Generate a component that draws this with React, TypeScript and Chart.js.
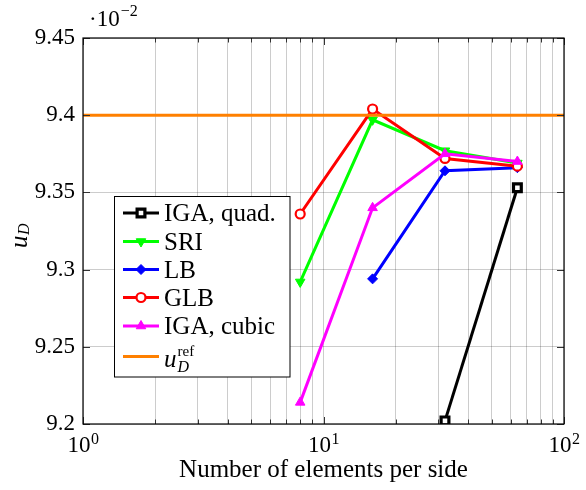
import React, { useEffect, useRef } from 'react';
import { Chart, registerables } from 'chart.js';
import { drawPoint } from 'chart.js/helpers';

Chart.register(...registerables);

// Displacement u_D (in units of 1e-2) versus mesh refinement
const elementsPerSide = [8, 16, 32, 64];
const igaQuad: (number | null)[] = [null, null, 9.202, 9.353];
const sri: (number | null)[] = [9.292, 9.397, 9.377, 9.369];
const lb: (number | null)[] = [null, 9.294, 9.364, 9.366];
const glb: (number | null)[] = [9.336, 9.404, 9.372, 9.367];
const igaCubic: (number | null)[] = [9.214, 9.34, 9.375, 9.37];
const uRef = 9.4;

const xLimits = [1, 100];
const xDecades = [1, 10];
const xMajorExponents = [0, 1, 2];
const yTicks = [9.2, 9.25, 9.3, 9.35, 9.4, 9.45];

const FONT = '"Liberation Serif", "Times New Roman", serif';

const toPoints = (vals: (number | null)[]) =>
  elementsPerSide
    .map((x, i) => ({ x, y: vals[i] }))
    .filter((p) => p.y !== null) as { x: number; y: number }[];

type SeriesStyle = {
  label: string;
  color: string;
  pointStyle: any;
  radius: number;
  rotation: number;
  fill: string;
  pointBorder: number;
};

const seriesStyles: SeriesStyle[] = [
  { label: 'IGA, quad.', color: '#000000', pointStyle: 'rect', radius: 5.5, rotation: 0, fill: '#ffffff', pointBorder: 3.2 },
  { label: 'SRI', color: '#00ff00', pointStyle: 'triangle', radius: 5.5, rotation: 180, fill: '#00ff00', pointBorder: 1 },
  { label: 'LB', color: '#0000ff', pointStyle: 'rectRot', radius: 5, rotation: 0, fill: '#0000ff', pointBorder: 1 },
  { label: 'GLB', color: '#ff0000', pointStyle: 'circle', radius: 4.5, rotation: 0, fill: '#ffffff', pointBorder: 2.2 },
  { label: 'IGA, cubic', color: '#ff00ff', pointStyle: 'triangle', radius: 5.5, rotation: 0, fill: '#ff00ff', pointBorder: 1 },
];
const seriesValues = [igaQuad, sri, lb, glb, igaCubic];
const refColor = '#ff8000';

const decorPlugin = {
  id: 'decor',
  afterDraw(chart: any) {
    const { ctx, chartArea: a, scales } = chart;
    const xs = scales.x;
    const ys = scales.y;
    ctx.save();

    // Inward tick marks on all four sides
    ctx.strokeStyle = '#333';
    ctx.lineWidth = 1;
    xs.ticks.forEach((t: any) => {
      const px = Math.round(xs.getPixelForValue(t.value)) + 0.5;
      const major = Math.abs(Math.log10(t.value) - Math.round(Math.log10(t.value))) < 1e-9;
      const len = major ? 7 : 4.5;
      ctx.beginPath();
      ctx.moveTo(px, a.bottom);
      ctx.lineTo(px, a.bottom - len);
      ctx.moveTo(px, a.top);
      ctx.lineTo(px, a.top + len);
      ctx.stroke();
    });
    ys.ticks.forEach((t: any) => {
      const py = Math.round(ys.getPixelForValue(t.value)) + 0.5;
      ctx.beginPath();
      ctx.moveTo(a.left, py);
      ctx.lineTo(a.left + 7, py);
      ctx.moveTo(a.right, py);
      ctx.lineTo(a.right - 7, py);
      ctx.stroke();
    });

    // Frame
    ctx.strokeStyle = '#000';
    ctx.lineWidth = 1.2;
    ctx.strokeRect(a.left, a.top, a.right - a.left, a.bottom - a.top);

    ctx.fillStyle = '#000';
    ctx.textBaseline = 'alphabetic';

    // x tick labels 10^k
    xMajorExponents.forEach((e) => {
      const px = xs.getPixelForValue(Math.pow(10, e));
      ctx.font = `23px ${FONT}`;
      const wBase = ctx.measureText('10').width;
      ctx.font = `16px ${FONT}`;
      const wExp = ctx.measureText(String(e)).width;
      const left = px - (wBase + wExp) / 2;
      ctx.font = `23px ${FONT}`;
      ctx.textAlign = 'left';
      ctx.fillText('10', left, 452);
      ctx.font = `16px ${FONT}`;
      ctx.fillText(String(e), left + wBase + 0.5, 444);
    });

    // x axis title
    ctx.font = `25px ${FONT}`;
    ctx.textAlign = 'center';
    ctx.fillText('Number of elements per side', (a.left + a.right) / 2, 477);

    // y axis title: u_D
    ctx.save();
    ctx.translate(27, 248);
    ctx.rotate(-Math.PI / 2);
    ctx.textAlign = 'left';
    ctx.font = `italic 25px ${FONT}`;
    ctx.fillText('u', 0, 0);
    const wu = ctx.measureText('u').width;
    ctx.font = `italic 16px ${FONT}`;
    ctx.fillText('D', wu + 0.5, 2);
    ctx.restore();

    // Scale factor ·10^-2
    ctx.textAlign = 'left';
    ctx.font = `23px ${FONT}`;
    ctx.fillText('·10', 89, 26);
    const w10 = ctx.measureText('·10').width;
    ctx.font = `16px ${FONT}`;
    ctx.fillText('−2', 89 + w10 + 1, 16);

    // Legend
    const lx = 114.5;
    const ly = 196.5;
    const lw = 175.5;
    const lh = 180.5;
    ctx.fillStyle = '#fff';
    ctx.fillRect(lx, ly, lw, lh);
    ctx.strokeStyle = '#000';
    ctx.lineWidth = 1;
    ctx.strokeRect(lx, ly, lw, lh);
    const rowY = [213, 241.5, 269.5, 297.5, 326, 356.5];
    const sx0 = 123;
    const sx1 = 159;
    const tx = 164;
    seriesStyles.forEach((s, i) => {
      const y = rowY[i];
      ctx.strokeStyle = s.color;
      ctx.lineWidth = 3;
      ctx.beginPath();
      ctx.moveTo(sx0, y);
      ctx.lineTo(sx1, y);
      ctx.stroke();
      ctx.strokeStyle = s.color;
      ctx.fillStyle = s.fill;
      ctx.lineWidth = s.pointBorder;
      drawPoint(ctx, { pointStyle: s.pointStyle, rotation: s.rotation, radius: s.radius, borderWidth: s.pointBorder } as any, (sx0 + sx1) / 2, y);
      ctx.fillStyle = '#000';
      ctx.font = `25px ${FONT}`;
      ctx.textAlign = 'left';
      ctx.fillText(s.label, tx, y + 8);
    });
    // reference entry: u_D^ref
    const yr = rowY[5];
    ctx.strokeStyle = refColor;
    ctx.lineWidth = 3;
    ctx.beginPath();
    ctx.moveTo(sx0, yr);
    ctx.lineTo(sx1, yr);
    ctx.stroke();
    ctx.fillStyle = '#000';
    ctx.font = `italic 25px ${FONT}`;
    ctx.fillText('u', tx, yr + 10);
    const wuu = ctx.measureText('u').width;
    ctx.font = `15px ${FONT}`;
    ctx.fillText('ref', tx + wuu + 1, yr - 1);
    ctx.font = `italic 16px ${FONT}`;
    ctx.fillText('D', tx + wuu + 1, yr + 15);

    ctx.restore();
  },
};

export default function App() {
  const canvasRef = useRef<HTMLCanvasElement | null>(null);

  useEffect(() => {
    if (!canvasRef.current) return;
    const datasets: any[] = seriesStyles.map((s, i) => ({
      label: s.label,
      data: toPoints(seriesValues[i]),
      borderColor: s.color,
      backgroundColor: s.fill,
      borderWidth: 3,
      pointStyle: s.pointStyle,
      pointRadius: s.radius,
      pointRotation: s.rotation,
      pointBorderWidth: s.pointBorder,
      pointBorderColor: s.color,
      pointBackgroundColor: s.fill,
      tension: 0,
      order: 10 - i,
    }));
    datasets.push({
      label: 'u_D^ref',
      data: xLimits.map((x) => ({ x, y: uRef })),
      borderColor: refColor,
      borderWidth: 3,
      pointRadius: 0,
      order: 1,
    });

    const xTickValues: number[] = [];
    xDecades.forEach((d) => {
      for (let k = 1; k <= 9; k++) xTickValues.push(k * d);
    });
    xTickValues.push(xLimits[1]);

    const chart = new Chart(canvasRef.current, {
      type: 'line',
      data: { datasets },
      options: {
        animation: false,
        responsive: false,
        events: [],
        layout: { padding: { top: 38, right: 22, left: 0, bottom: 0 } },
        plugins: { legend: { display: false }, tooltip: { enabled: false } },
        scales: {
          x: {
            type: 'logarithmic',
            min: xLimits[0],
            max: xLimits[1],
            afterBuildTicks: (scale: any) => {
              scale.ticks = xTickValues.map((v) => ({ value: v }));
            },
            afterFit: (scale: any) => {
              scale.height = 66;
            },
            ticks: { display: false, autoSkip: false },
            grid: { color: 'rgba(0,0,0,0.2)', lineWidth: 1, drawTicks: false },
            border: { display: false },
          },
          y: {
            type: 'linear',
            min: yTicks[0],
            max: yTicks[yTicks.length - 1],
            afterBuildTicks: (scale: any) => {
              scale.ticks = yTicks.map((v) => ({ value: v }));
            },
            afterFit: (scale: any) => {
              scale.width = 83;
            },
            ticks: {
              padding: 8,
              color: '#000',
              font: { family: FONT, size: 23 },
              callback: (v: any) => String(Number(Number(v).toFixed(2))),
            },
            grid: { color: 'rgba(0,0,0,0.2)', lineWidth: 1, drawTicks: false },
            border: { display: false },
          },
        },
      },
      plugins: [decorPlugin],
    });
    return () => chart.destroy();
  }, []);

  return (
    <div style={{ position: 'absolute', left: 0, top: 0, width: 586, height: 490, background: '#fff' }}>
      <canvas ref={canvasRef} width={586} height={490} style={{ display: 'block' }} />
    </div>
  );
}
